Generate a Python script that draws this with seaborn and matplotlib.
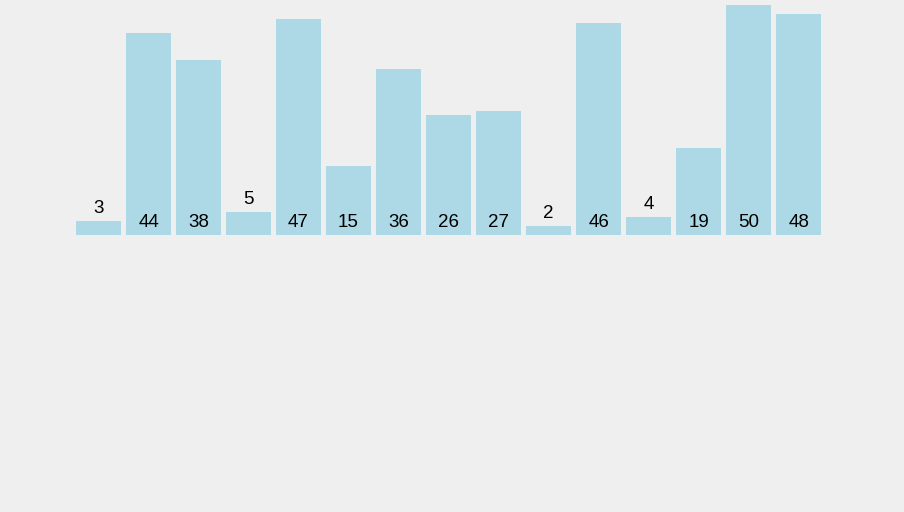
import matplotlib
matplotlib.use("Agg")
import matplotlib.pyplot as plt
import seaborn as sns
import pandas as pd
from matplotlib.transforms import offset_copy

values = [3, 44, 38, 5, 47, 15, 36, 26, 27, 2, 46, 4, 19, 50, 48]
categories = [str(i) for i in range(len(values))]

sns.set_style("white")
plt.rcParams['font.family'] = ['Liberation Sans', 'DejaVu Sans']

bg = "#eeefee"
fig = plt.figure(figsize=(9.041, 5.121), dpi=100, facecolor=bg)
W, H = 904, 512
ax = fig.add_axes([76 / W, (H - 235) / H, 745 / W, 230 / H])
ax.set_facecolor(bg)

df = pd.DataFrame({"cat": categories, "val": values})
sns.barplot(data=df, x="cat", y="val", color="#add8e6", saturation=1,
            width=0.9, ax=ax, edgecolor="none")

ax.set_xlim(-0.45, 14.45)
ax.set_ylim(0, 50)
ax.axis("off")

trans = offset_copy(ax.transData, fig=fig, x=0, y=8, units="dots")
for i, v in enumerate(values):
    y = v if v < 10 else 0
    ax.text(i, y, str(v), transform=trans, ha="center", va="baseline",
            fontsize=13.5, color="black")

fig.savefig("out.png", dpi=100, facecolor=bg)
